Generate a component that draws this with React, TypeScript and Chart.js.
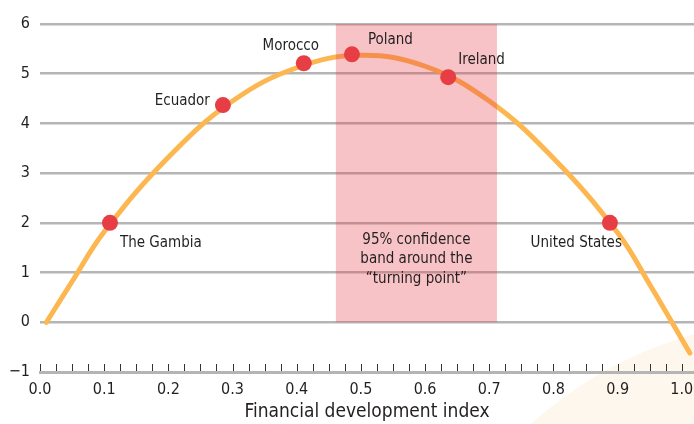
import React, { useEffect, useRef } from "react";
import { Chart, registerables } from "chart.js";

Chart.register(...registerables);

// Fitted curve
const curveX = [0.01, 0.05, 0.1, 0.2, 0.3, 0.4, 0.5, 0.6, 0.7, 0.8, 0.9, 0.95, 1.0125];
const curveY = [0, 0.82, 1.82, 3.32, 4.45, 5.12, 5.37, 5.15, 4.45, 3.3, 1.8, 0.76, -0.62];

// Highlighted countries
const countryNames = ["The Gambia", "Ecuador", "Morocco", "Poland", "Ireland", "United States"];
const countryX = [0.109, 0.285, 0.411, 0.486, 0.636, 0.888];
const countryY = [2.0, 4.37, 5.21, 5.39, 4.93, 2.0];

// Confidence band around the turning point
const bandRange = [0.461, 0.712];
const bandYRange = [0, 6];
const bandText = ["95% confidence", "band around the", "\u201cturning point\u201d"];

// Axes
const xTickValues = [0, 0.1, 0.2, 0.3, 0.4, 0.5, 0.6, 0.7, 0.8, 0.9, 1.0];
const xMinorStep = 0.025;
const yTickValues = [-1, 0, 1, 2, 3, 4, 5, 6];
const xTitle = "Financial development index";

const FONT = '"Liberation Sans Narrow", "DejaVu Sans Condensed", "Open Sans", sans-serif';
const TEXT = "#231F20";
const GRID = "#B5B5B5";

// label placement: [dx, dy, align]
const labelPlacement: [number, number, CanvasTextAlign][] = [
  [10, 20, "left"],
  [-13, -4, "right"],
  [-13, -17, "center"],
  [16, -14, "left"],
  [10, -17, "left"],
  [12, 20, "right"],
];

export default function App() {
  const ref = useRef<HTMLCanvasElement | null>(null);

  useEffect(() => {
    document.body.style.margin = "0";
    const canvas = ref.current;
    if (!canvas) return;

    const decoPlugin = {
      id: "deco",
      beforeDraw(chart: any) {
        const ctx = chart.ctx;
        ctx.save();
        ctx.fillStyle = "#FEF7EE";
        ctx.beginPath();
        ctx.arc(800, 720, 400, 0, Math.PI * 2);
        ctx.fill();
        ctx.restore();
      },
    };

    const bandPlugin = {
      id: "band",
      afterDatasetDraw(chart: any, args: any) {
        if (args.index !== 0) return;
        const x = chart.scales.x;
        const y = chart.scales.y;
        const ctx = chart.ctx;
        const x0 = x.getPixelForValue(bandRange[0]);
        const x1 = x.getPixelForValue(bandRange[1]);
        const y0 = y.getPixelForValue(bandYRange[1]);
        const y1 = y.getPixelForValue(bandYRange[0]);
        ctx.save();
        ctx.fillStyle = "rgba(228, 62, 72, 0.31)";
        ctx.fillRect(x0, y0, x1 - x0, y1 - y0);
        ctx.restore();
      },
    };

    const textPlugin = {
      id: "texts",
      afterDraw(chart: any) {
        const x = chart.scales.x;
        const y = chart.scales.y;
        const ctx = chart.ctx;
        ctx.save();
        // minor ticks on x axis
        ctx.strokeStyle = "#333";
        ctx.lineWidth = 1;
        const base = y.getPixelForValue(-1);
        const n = Math.round(x.max / xMinorStep);
        for (let i = 0; i <= n; i++) {
          const px = Math.round(x.getPixelForValue(i * xMinorStep)) + 0.5;
          if (px > chart.width) break;
          ctx.beginPath();
          ctx.moveTo(px, base - 8);
          ctx.lineTo(px, base - 1);
          ctx.stroke();
        }
        // country labels
        ctx.fillStyle = TEXT;
        ctx.font = `15px ${FONT}`;
        ctx.textBaseline = "middle";
        countryNames.forEach((name, i) => {
          const [dx, dy, al] = labelPlacement[i];
          ctx.textAlign = al;
          ctx.fillText(name, x.getPixelForValue(countryX[i]) + dx, y.getPixelForValue(countryY[i]) + dy);
        });
        // band text
        ctx.textAlign = "center";
        const cx = (x.getPixelForValue(bandRange[0]) + x.getPixelForValue(bandRange[1])) / 2;
        const cy = y.getPixelForValue(1.27);
        bandText.forEach((t, i) => {
          ctx.fillText(t, cx, cy + (i - 1) * 19.5);
        });
        ctx.restore();
      },
    };

    const chart = new Chart(canvas, {
      type: "scatter",
      data: {
        datasets: [
          {
            data: curveX.map((v, i) => ({ x: v, y: curveY[i] })),
            showLine: true,
            borderColor: "#FDB750",
            borderWidth: 5,
            pointRadius: 0,
            tension: 0.4,
            borderCapStyle: "round",
            clip: false,
            order: 2,
          } as any,
          {
            data: countryX.map((v, i) => ({ x: v, y: countryY[i] })),
            backgroundColor: "#E63E44",
            borderWidth: 0,
            pointRadius: 8,
            clip: false,
            order: 1,
          } as any,
        ],
      },
      options: {
        responsive: false,
        animation: false,
        events: [],
        layout: { autoPadding: false, padding: { top: 24, right: 0, left: 0, bottom: 0 } },
        plugins: { legend: { display: false }, tooltip: { enabled: false } },
        scales: {
          x: {
            type: "linear",
            min: 0,
            max: 1.019,
            afterBuildTicks: (s: any) => {
              s.ticks = xTickValues.map((v) => ({ value: v }));
            },
            afterFit: (s: any) => {
              s.height = 52;
              s.paddingLeft = 0;
              s.paddingRight = 0;
            },
            grid: { display: false, drawTicks: false },
            border: { display: true, color: GRID, width: 3 },
            ticks: {
              padding: 8,
              color: TEXT,
              font: { family: FONT, size: 16 },
              maxRotation: 0,
              autoSkip: false,
              callback: (v: any) => Number(v).toFixed(1),
            },
            title: {
              display: true,
              text: xTitle,
              color: TEXT,
              font: { family: FONT, size: 19 },
              padding: { top: 0, bottom: 1 },
            },
          },
          y: {
            type: "linear",
            min: -1,
            max: 6,
            afterBuildTicks: (s: any) => {
              s.ticks = yTickValues.map((v) => ({ value: v }));
            },
            afterFit: (s: any) => {
              s.width = 40;
              s.paddingTop = 0;
              s.paddingBottom = 0;
            },
            grid: {
              drawTicks: false,
              lineWidth: 2.5,
              color: (c: any) => (c.tick && c.tick.value < 0 ? "rgba(0,0,0,0)" : GRID),
            },
            border: { display: false },
            ticks: {
              padding: 10,
              color: TEXT,
              font: { family: FONT, size: 16 },
              callback: (v: any) => (Number(v) < 0 ? "\u2212" + Math.abs(Number(v)) : String(v)),
            },
          },
        },
      },
      plugins: [decoPlugin, bandPlugin, textPlugin],
    });

    return () => chart.destroy();
  }, []);

  return <canvas ref={ref} width={694} height={424} style={{ display: "block" }} />;
}
